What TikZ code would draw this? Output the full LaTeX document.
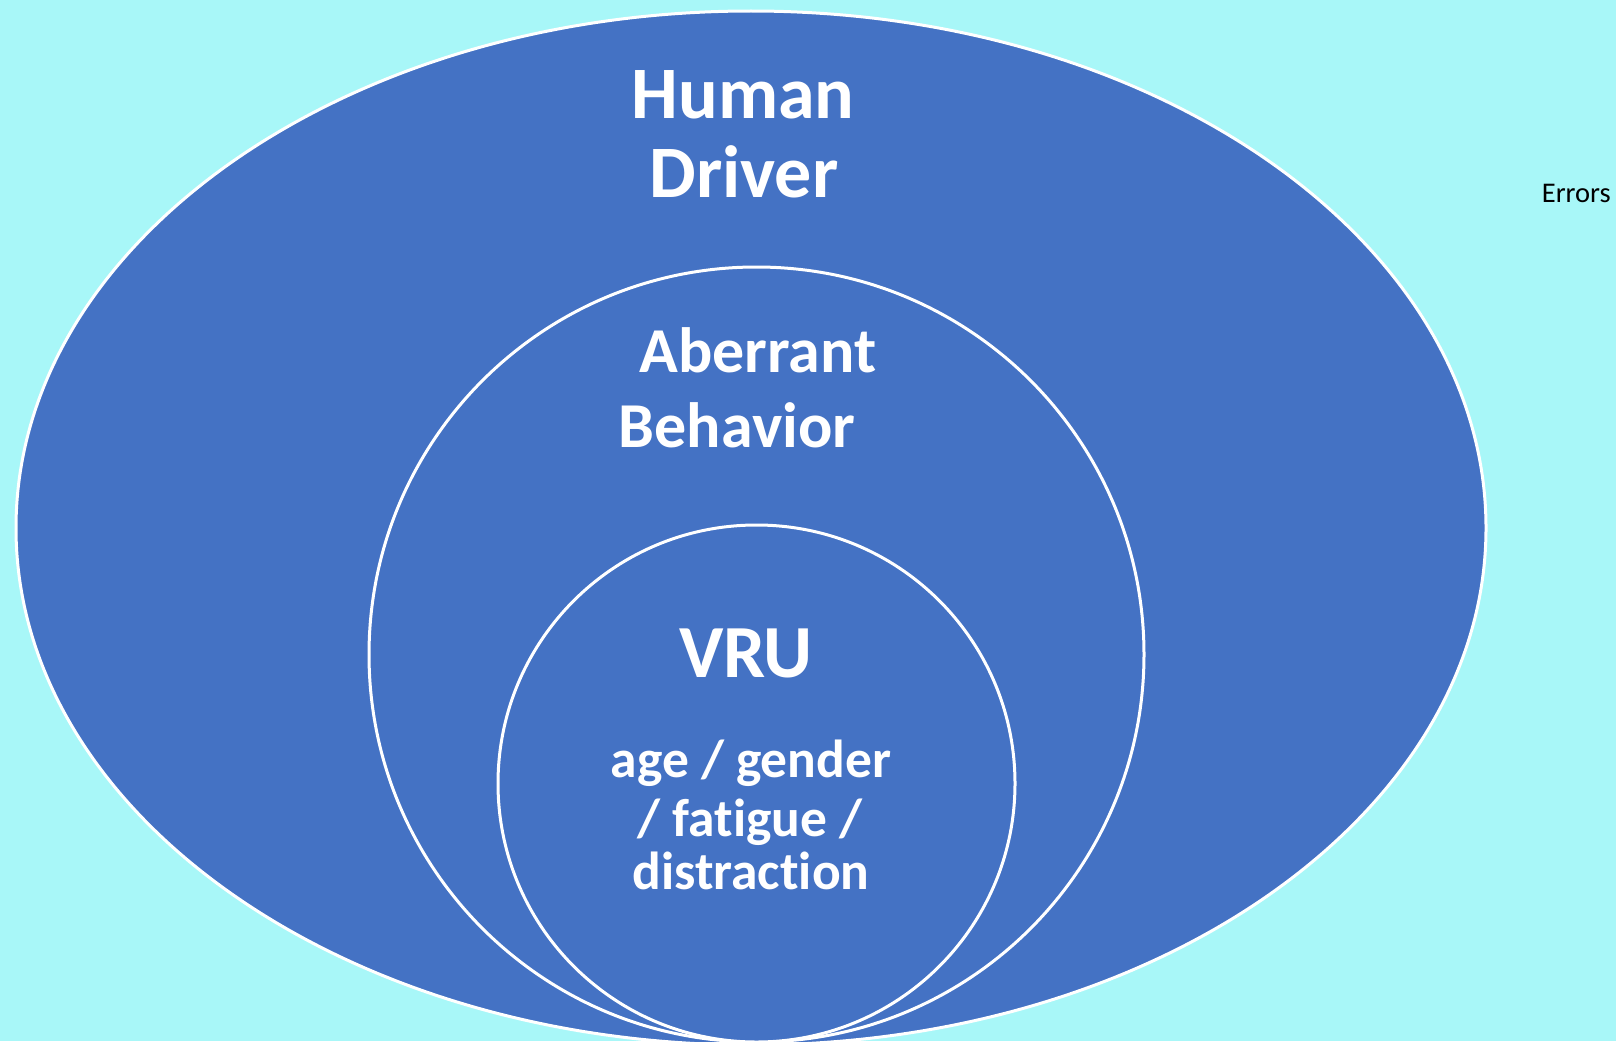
\documentclass[tikz,border=0pt]{standalone}
\usepackage{fontspec}
\setmainfont{Carlito}[Ligatures=NoCommon]
\definecolor{bgcyan}{HTML}{A8F7F8}
\definecolor{setblue}{HTML}{4472C4}
\tikzset{
  setshape/.style={draw=white, line width=3pt, fill=setblue},
  bigtxt/.style={text=white, inner sep=0pt, anchor=base, font=\fontsize{74}{80}\selectfont\bfseries},
  vrutxt/.style={text=white, inner sep=0pt, anchor=base, font=\fontsize{75}{80}\selectfont\bfseries},
  midtxt/.style={text=white, inner sep=0pt, anchor=base, font=\fontsize{64}{72}\selectfont\bfseries},
  smalltxt/.style={text=white, inner sep=0pt, anchor=base, font=\fontsize{53.5}{60}\selectfont\bfseries},
  lbltxt/.style={text=black, inner sep=0pt, anchor=base east, font=\fontsize{28.5}{32}\selectfont}
}
\begin{document}
\begin{tikzpicture}[x=1pt,y=-1pt]
\useasboundingbox (0,0) rectangle (1616,1041);
\clip (0,0) rectangle (1616,1041);
\fill[bgcyan] (0,0) rectangle (1616,1041);
\draw[setshape] (751,528) ellipse [x radius=735, y radius=517];
\draw[setshape] (756.5,654.5) circle [radius=387.5];
\draw[setshape] (756.5,783.5) circle [radius=258.5];
\node[bigtxt] (human) at (743,118) {Human};
\node[bigtxt] (driver) at (744,197) {Driver};
\node[midtxt] (aberrant) at (758,372) {Aberrant};
\node[midtxt] (behavior) at (737,447) {Behavior};
\node[vrutxt] (vru) at (746,677) {VRU};
\node[smalltxt] (l1) at (751,777) {age / gender};
\node[smalltxt] (l2) at (750,836) {/ fatigue /};
\node[smalltxt] (l3) at (751,889) {distraction};
\node[lbltxt] (errors) at (1611,202) {Errors};
\end{tikzpicture}
\end{document}
